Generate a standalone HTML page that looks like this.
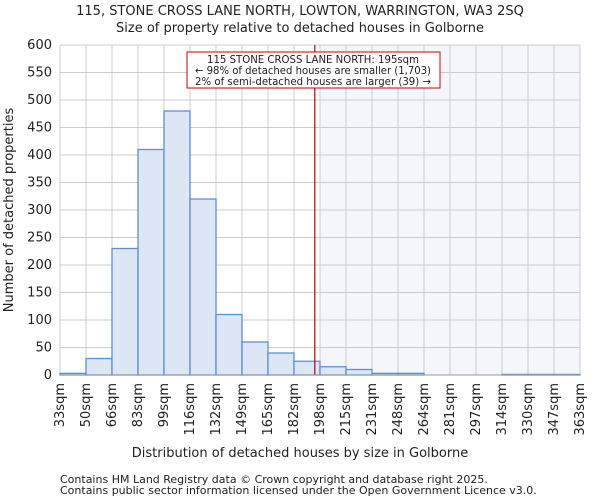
<!DOCTYPE html>
<html><head><meta charset="utf-8"><style>
body{margin:0;background:#fff;font-family:"DejaVu Sans","Liberation Sans",sans-serif}
svg text{fill:#222}
</style></head><body>
<svg width="600" height="500" xmlns="http://www.w3.org/2000/svg">
<g id="g"></g>
</svg>
<script>
const labels=["33sqm","50sqm","66sqm","83sqm","99sqm","116sqm","132sqm","149sqm","165sqm","182sqm","198sqm","215sqm","231sqm","248sqm","264sqm","281sqm","297sqm","314sqm","330sqm","347sqm","363sqm"];
const counts=[3,30,230,410,480,320,110,60,40,25,15,10,3,3,0,0,0,1,1,1];
const yTicks=[0,50,100,150,200,250,300,350,400,450,500,550,600];
const markerBin=9.8;
const shadeFrom=10;
const X0=60,X1=580,Y0=375,Y1=45,YMAX=600;
const bw=(X1-X0)/counts.length;
const xs=i=>X0+i*bw;
const ys=v=>Y0-(Y0-Y1)*v/YMAX;
const g=document.getElementById('g');
const NS="http://www.w3.org/2000/svg";
function mk(t,a,txt){const e=document.createElementNS(NS,t);for(const k in a)e.setAttribute(k,a[k]);if(txt!=null)e.textContent=txt;g.appendChild(e);return e;}
let e;
e=mk('rect',{x:xs(shadeFrom),y:Y1,width:X1-xs(shadeFrom),height:Y0-Y1,fill:'#f4f6fc'});


yTicks.forEach(v=>{
 e=mk('line',{x1:X0,x2:X1,y1:ys(v),y2:ys(v),stroke:'#ccc','stroke-width':1});
 
 
 e=mk('text',{x:X0-8,y:ys(v)+4,'text-anchor':'end','font-size':13},String(v));
 
 
});
labels.forEach((l,i)=>{
 e=mk('line',{x1:xs(i),x2:xs(i),y1:Y1,y2:Y0,stroke:'#ccc','stroke-width':1});
 
 
 e=mk('text',{transform:`translate(${xs(i)+4},${Y0+8}) rotate(-90)`,'text-anchor':'end','font-size':13},l);
 
 
});
counts.forEach((c,i)=>{
 if(c<=0)return;
 e=mk('rect',{x:xs(i),y:ys(c),width:bw,height:Y0-ys(c),fill:'#dce6f4',stroke:'#5b8fd6','stroke-width':1.3});
 
 
});
e=mk('line',{x1:xs(markerBin),x2:xs(markerBin),y1:Y1,y2:Y0,stroke:'#b00','stroke-width':1.2});


e=mk('rect',{x:187,y:52,width:253,height:36,fill:'#fff',stroke:'#c00','stroke-width':1});


[["115 STONE CROSS LANE NORTH: 195sqm",63],["← 98% of detached houses are smaller (1,703)",74],["2% of semi-detached houses are larger (39) →",85]].forEach(([t,y])=>{
 e=mk('text',{x:313,y:y,'text-anchor':'middle','font-size':10.5,textLength:236,lengthAdjust:'spacingAndGlyphs'},t);
 if(y===63){e.setAttribute('textLength',212);}
 
 
});
e=mk('line',{x1:X0,x2:X1,y1:Y0,y2:Y0,stroke:'#999'});


e=mk('text',{x:300,y:15,'text-anchor':'middle','font-size':13},"115, STONE CROSS LANE NORTH, LOWTON, WARRINGTON, WA3 2SQ");


e=mk('text',{x:300,y:32,'text-anchor':'middle','font-size':13},"Size of property relative to detached houses in Golborne");


e=mk('text',{x:300,y:457,'text-anchor':'middle','font-size':13},"Distribution of detached houses by size in Golborne");


e=mk('text',{transform:'translate(13,210) rotate(-90)','text-anchor':'middle','font-size':13},"Number of detached properties");


e=mk('text',{x:60,y:483,'font-size':11,fill:'#444'},"Contains HM Land Registry data © Crown copyright and database right 2025.");


e=mk('text',{x:60,y:494,'font-size':11,fill:'#444'},"Contains public sector information licensed under the Open Government Licence v3.0.");


</script>
</body></html>
